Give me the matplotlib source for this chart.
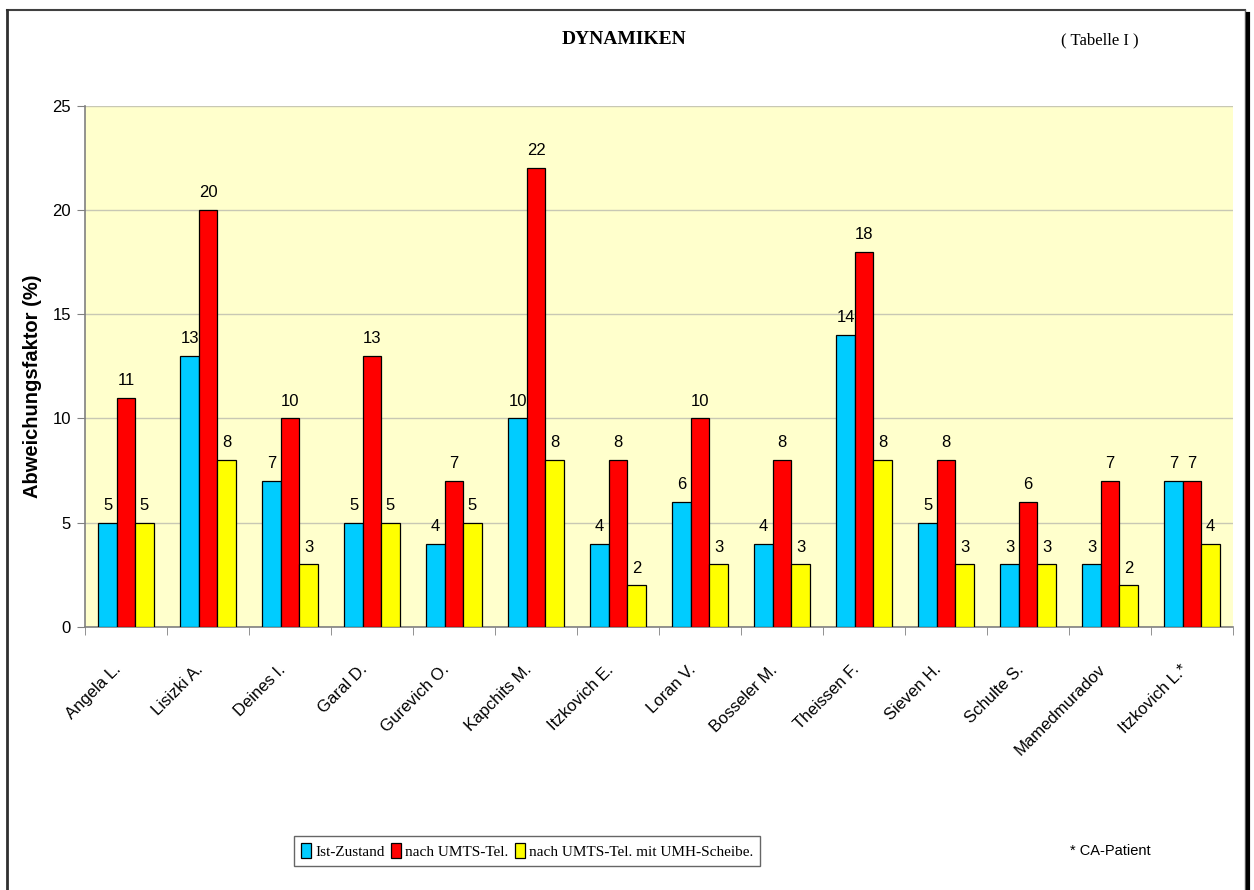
import matplotlib
matplotlib.use("Agg")
import matplotlib.pyplot as plt
import matplotlib.transforms as mtransforms
from matplotlib.patches import Patch
from matplotlib.lines import Line2D
import numpy as np

categories = ["Angela L.", "Lisizki A.", "Deines I.", "Garal D.", "Gurevich O.",
              "Kapchits M.", "Itzkovich E.", "Loran V.", "Bosseler M.", "Theissen F.",
              "Sieven H.", "Schulte S.", "Mamedmuradov", "Itzkovich L.*"]
ist = [5, 13, 7, 5, 4, 10, 4, 6, 4, 14, 5, 3, 3, 7]
umts = [11, 20, 10, 13, 7, 22, 8, 10, 8, 18, 8, 6, 7, 7]
umh = [5, 8, 3, 5, 5, 8, 2, 3, 3, 8, 3, 3, 2, 4]
series_names = ["Ist-Zustand", "nach UMTS-Tel.", "nach UMTS-Tel. mit UMH-Scheibe."]
colors = ["#00CCFF", "#FF0000", "#FFFF00"]
yticks = [0, 5, 10, 15, 20, 25]

SANS = "Liberation Sans"
SERIF = "Liberation Serif"

fig = plt.figure(figsize=(12.54, 8.9), dpi=100)
fig.patch.set_facecolor("white")

ax = fig.add_axes([85/1254, 1-627/890, 1148/1254, (627-105.5)/890])
ax.set_facecolor("#FFFFCC")

x = np.arange(len(categories))
bw = 0.225
for k, (vals, col) in enumerate(zip([ist, umts, umh], colors)):
    pos = x + (k-1)*bw
    ax.bar(pos, vals, width=bw, color=col, edgecolor="black", linewidth=0.9, zorder=3)
    for p, v in zip(pos, vals):
        ax.annotate(str(v), (p, v), xytext=(0, 7), textcoords="offset points",
                    ha="center", va="bottom", fontsize=12, family=SANS, zorder=4)

ax.set_xlim(-0.5, len(categories)-0.5)
ax.set_ylim(0, 25)
ax.set_yticks(yticks)
ax.set_yticklabels([str(t) for t in yticks], fontsize=12, family=SANS)
ax.yaxis.grid(True, color="#C8C8B4", linewidth=1, zorder=0)
ax.set_axisbelow(True)

ax.set_xticks(x)
ax.set_xticklabels(categories, rotation=45, ha="right", va="center",
                   rotation_mode="anchor", fontsize=12, family=SANS)
ax.tick_params(axis="x", which="major", length=0, pad=29)
offset = mtransforms.ScaledTranslation(-7/100, 0, fig.dpi_scale_trans)
for lab in ax.get_xticklabels():
    lab.set_transform(lab.get_transform() + offset)
ax.set_xticks(np.arange(-0.5, len(categories), 1.0), minor=True)
ax.tick_params(axis="x", which="minor", length=6, color="#808080", direction="out")
ax.tick_params(axis="y", length=6, color="#808080", direction="out", pad=4)

for s in ["top", "right"]:
    ax.spines[s].set_visible(False)
for s in ["left", "bottom"]:
    ax.spines[s].set_color("#808080")
    ax.spines[s].set_linewidth(1.2)

ax.set_ylabel("Abweichungsfaktor (%)", fontsize=14.5, fontweight="bold", family=SANS)
ax.yaxis.set_label_coords(-0.0375, 0.462)

fig.text(624/1254, 1-40/890, "DYNAMIKEN", ha="center", va="center",
         fontsize=14, fontweight="bold", family=SERIF)
fig.text(1100/1254, 1-40/890, "( Tabelle I )", ha="center", va="center",
         fontsize=12, family=SERIF)

handles = [Patch(facecolor=c, edgecolor="black", linewidth=0.9) for c in colors]
leg = fig.legend(handles, series_names, loc="center", bbox_to_anchor=(527/1254, 1-851/890),
                 ncol=3, frameon=True, fancybox=False, edgecolor="#404040",
                 prop={"family": SERIF, "size": 11}, handlelength=0.7, handleheight=1.1,
                 handletextpad=0.25, columnspacing=0.4, borderpad=0.45, borderaxespad=0)
leg.get_frame().set_linewidth(1.0)

fig.text(1110/1254, 1-851/890, "* CA-Patient", ha="center", va="center",
         fontsize=10.5, family=SANS)

# outer frame
fig.add_artist(Line2D([7/1254, 1245/1254], [1-10/890, 1-10/890], transform=fig.transFigure,
                      color="#404040", linewidth=1.5))
fig.add_artist(Line2D([7/1254, 7/1254], [1-10/890, 0], transform=fig.transFigure,
                      color="#303030", linewidth=2))
fig.add_artist(Line2D([1245/1254, 1245/1254], [1-10/890, 0], transform=fig.transFigure,
                      color="#606060", linewidth=1))
fig.add_artist(Line2D([1248/1254, 1248/1254], [1-14/890, 0], transform=fig.transFigure,
                      color="black", linewidth=3))

fig.savefig("out.png", dpi=100)
